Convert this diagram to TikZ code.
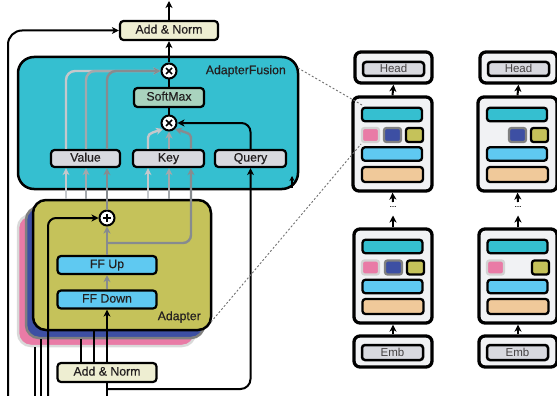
\documentclass[tikz,border=0pt]{standalone}
\usepackage{fontspec}
\setmainfont{Liberation Sans}
\newfontfamily\lblfam[FakeBold=0.45]{Liberation Sans}
\usetikzlibrary{arrows.meta,calc}
\definecolor{cyanbg}{HTML}{35BFD0}
\definecolor{olivec}{HTML}{C5C25A}
\definecolor{adblue}{HTML}{3D4FA3}
\definecolor{adpink}{HTML}{E97BA6}
\definecolor{cream}{HTML}{EEEED2}
\definecolor{sgreen}{HTML}{A9D3BE}
\definecolor{boxgray}{HTML}{D8D9DF}
\definecolor{ffblue}{HTML}{5FC9F1}
\definecolor{peach}{HTML}{F0C99A}
\definecolor{panel}{HTML}{F1F2F4}
\definecolor{gA}{HTML}{C5C8CC}
\definecolor{gB}{HTML}{A4A8AC}
\definecolor{gC}{HTML}{878B8F}
\definecolor{txt}{HTML}{231F20}
\definecolor{dashc}{HTML}{707070}
\tikzset{
 bl/.style={draw=black, line width=2pt},
 gl/.style={line width=2.4pt},
 arr/.style={-{Stealth[length=7pt,width=7pt,inset=2pt]}},
 sarr/.style={-{Stealth[length=5pt,width=5pt,inset=1.5pt]}},
 lbl/.style={draw=black, line width=2.2pt, rounded corners=3.5pt, inner sep=0pt,
   minimum height=19pt, text height=8.7pt, text depth=2.5pt,
   font=\lblfam\fontsize{12.3}{12}\selectfont, text=txt},
 opc/.style={circle, draw=black, line width=2pt, fill=white, minimum size=15pt, inner sep=0pt},
 stk/.style={line width=2.5pt, rounded corners=13pt, inner sep=0pt},
 rpan/.style={draw=black, line width=3.3pt, fill=panel, rounded corners=6pt, inner sep=0pt},
 rin/.style={draw=black, line width=2.5pt, fill=boxgray, rounded corners=3pt, inner sep=0pt,
   text height=8.3pt, text depth=0.5pt, font=\fontsize{11.5}{11.5}\selectfont, text=txt!85},
 rbar/.style={draw=black, line width=2.3pt, rounded corners=3pt, inner sep=0pt,
   minimum width=60pt, minimum height=13.5pt},
 sqr/.style={line width=2.3pt, rounded corners=2.5pt, inner sep=0pt,
   minimum width=17pt, minimum height=14pt},
 dsh/.style={draw=dashc, line width=0.9pt, dash pattern=on 2pt off 2pt},
}
\begin{document}
\begin{tikzpicture}[x=1pt,y=-1pt]
\useasboundingbox (0,0) rectangle (557,396);
% ---------------- AdapterFusion
\node[draw=black, line width=2.5pt, fill=cyanbg, rounded corners=16pt,
  minimum width=280pt, minimum height=132pt, inner sep=0pt] (fusion) at (158,123) {};
\node[anchor=east, font=\lblfam\fontsize{12.3}{12}\selectfont, text=txt, inner sep=0pt] (flbl) at (286,71) {AdapterFusion};
\node[lbl, fill=cream, minimum width=98pt] (addtop) at (169,30.5) {Add \& Norm};
\node[opc] (m1) at (169,71) {};
\node[lbl, fill=sgreen, minimum width=70pt] (soft) at (169,97.5) {SoftMax};
\node[opc] (m2) at (169,123) {};
\node[lbl, fill=boxgray, minimum width=69pt, minimum height=17pt] (value) at (85.5,158.5) {Value};
\node[lbl, fill=boxgray, minimum width=71pt, minimum height=17pt] (key) at (168.5,158.5) {Key};
\node[lbl, fill=boxgray, minimum width=71pt, minimum height=17pt] (query) at (250.5,158.5) {Query};
\draw[line width=1.7pt] ($(m1)+(-3,-3)$) -- ($(m1)+(3,3)$) ($(m1)+(-3,3)$) -- ($(m1)+(3,-3)$);
\draw[line width=1.7pt] ($(m2)+(-3,-3)$) -- ($(m2)+(3,3)$) ($(m2)+(-3,3)$) -- ($(m2)+(3,-3)$);
% value lines
\draw[gl,gA,arr,rounded corners=9pt] (66,0 |- value.north) -- (66,71) -- (m1.west);
\draw[gl,gB,arr,rounded corners=9pt] (86,0 |- value.north) -- (86,71) -- (m1.west);
\draw[gl,gC,arr,rounded corners=9pt] (107,0 |- value.north) -- (107,71) -- (m1.west);
% key lines
\draw[gl,gA,arr] (148,0 |- key.north) -- (148,141) .. controls (148,134) .. (m2.225);
\draw[gl,gB,arr] (m2.south |- key.north) -- (m2.south);
\draw[gl,gC,arr] (191,0 |- key.north) -- (191,141) .. controls (191,134) .. (m2.-45);
% query
\draw[bl,arr,rounded corners=9pt] (query.north) -- (query.north |- m2.east) -- (m2.east);
\draw[bl] (m2.north) -- (soft.south);
\draw[bl] (soft.north) -- (m1.south);
\draw[bl,arr] (m1.north) -- (addtop.south);
\coordinate (topout) at (169,1);
\draw[bl,arr] (addtop.north) -- (topout);
\coordinate (sa1) at (292,188);
\coordinate (sa2) at (292,176);
\draw[line width=1.6pt,sarr] (sa1) -- (sa2);
% ---------------- Adapter stack
\node[stk, fill=adpink, draw=gray!30, minimum width=177pt, minimum height=131pt] (pinkad) at (106.5,280.5) {};
\node[stk, fill=adblue, draw=gray, minimum width=178pt, minimum height=131pt] (bluead) at (115,272.5) {};
\node[stk, fill=olivec, draw=black, minimum width=178pt, minimum height=130pt] (olivead) at (122,265) {};
\node[opc] (plus) at (107,218) {};
\draw[line width=1.7pt] ($(plus)+(-4.2,0)$) -- ($(plus)+(4.2,0)$) ($(plus)+(0,-4.2)$) -- ($(plus)+(0,4.2)$);
\node[lbl, fill=ffblue, minimum width=99pt, minimum height=18pt] (ffup) at (107,265) {FF Up};
\node[lbl, fill=ffblue, minimum width=99pt, minimum height=18pt] (ffdown) at (107,299.5) {FF Down};
\node[anchor=east, font=\lblfam\fontsize{12.3}{12}\selectfont, text=txt, inner sep=0pt] (alb) at (201,317) {Adapter};
\node[lbl, fill=cream, minimum width=99pt] (addbot) at (107,372.5) {Add \& Norm};
% gray connectors
\draw[gl,gC,arr] (ffdown.north) -- (ffup.south);
\draw[gl,gC,arr] (ffup.north) -- (plus.south);
\coordinate (br) at (107,243);
\draw[gl,gC,arr,rounded corners=8pt] (br) -- (191,243) -- (191,0 |- key.south);
\draw[gl,gC,arr] (plus.north) -- (107,0 |- value.south);
\draw[gl,gA,arr] (66,0 |- olivead.north) -- (66,0 |- value.south);
\draw[gl,gB,arr] (86,0 |- olivead.north) -- (86,0 |- value.south);
\draw[gl,gA,arr] (148,0 |- olivead.north) -- (148,0 |- key.south);
\draw[gl,gB,arr] (169,0 |- olivead.north) -- (169,0 |- key.south);
% black connectors
\draw[bl,arr] (addbot.north) -- (ffdown.south);
\draw[bl] (94,0 |- addbot.north) -- (94,0 |- olivead.south);
\draw[bl] (81,0 |- addbot.north) -- (81,0 |- bluead.south);
\coordinate (inA) at (8,397);
\coordinate (inB) at (35,397);
\coordinate (inC) at (41,397);
\coordinate (inD) at (48,397);
\coordinate (inE) at (107,397);
\coordinate (qb) at (107,389);
\draw[bl,arr,rounded corners=14pt] (inA) -- (8,0 |- addtop.west) -- (addtop.west);
\draw[bl] (inB) -- (35,0 |- pinkad.south);
\draw[bl] (inC) -- (41,0 |- bluead.south);
\draw[bl,arr,rounded corners=8pt] (inD) -- (48,0 |- plus.west) -- (plus.west);
\draw[bl] (addbot.south) -- (inE);
\draw[bl,arr,rounded corners=10pt] (qb) -- (query.south |- qb) -- (query.south);
% ---------------- Right columns
\foreach \dx/\sfx/\pu/\bu/\pl/\bll in {0/A/1/1/1/1, 125/B/0/1/1/0} {
 \begin{scope}[xshift=\dx pt]
  \node[rpan, minimum width=77pt, minimum height=31pt] (head\sfx) at (393.5,67.5) {};
  \node[rin, minimum width=61pt, minimum height=14pt] (headt\sfx) at (393.5,69) {Head};
  \node[rpan, minimum width=79pt, minimum height=94pt] (layU\sfx) at (392.5,144) {};
  \node[rbar, fill=cyanbg] (cyU\sfx) at (392,114.5) {};
  \ifnum\pu=1 \node[sqr, fill=adpink, draw=gray!35] (pkU\sfx) at (370.5,135) {}; \fi
  \ifnum\bu=1 \node[sqr, fill=adblue, draw=gray] (buU\sfx) at (392.5,135) {}; \fi
  \node[sqr, fill=olivec, draw=black] (olU\sfx) at (414.5,135) {};
  \node[rbar, fill=ffblue] (lbU\sfx) at (392,154) {};
  \node[rbar, fill=peach, minimum width=61pt, minimum height=15pt] (peU\sfx) at (392.5,174.5) {};
  \node[rpan, minimum width=78pt, minimum height=94pt] (layL\sfx) at (393,276) {};
  \node[rbar, fill=cyanbg] (cyL\sfx) at (392.5,246.5) {};
  \ifnum\pl=1 \node[sqr, fill=adpink, draw=gray!35] (pkL\sfx) at (370.5,267.5) {}; \fi
  \ifnum\bll=1 \node[sqr, fill=adblue, draw=gray] (buL\sfx) at (393.5,267.5) {}; \fi
  \node[sqr, fill=olivec, draw=black] (olL\sfx) at (415.5,267.5) {};
  \node[rbar, fill=ffblue] (lbL\sfx) at (392.5,286.5) {};
  \node[rbar, fill=peach, minimum width=61pt, minimum height=15pt] (peL\sfx) at (393,306.5) {};
  \node[rpan, minimum width=78pt, minimum height=31pt] (emb\sfx) at (393,351.5) {};
  \node[rin, minimum width=61pt, minimum height=15pt] (embt\sfx) at (392.5,352.5) {Emb};
  \draw[bl,arr] (layU\sfx.north) -- (head\sfx.south);
  \coordinate (d1\sfx) at (393,202);
  \coordinate (d2\sfx) at (393,215.5);
  \draw[bl,arr] (d1\sfx) -- (layU\sfx.south);
  \node[font=\lblfam\fontsize{8}{8}\selectfont, inner sep=0pt] (dots\sfx) at (393,206.5) {...};
  \draw[bl,arr] (layL\sfx.north) -- (d2\sfx);
  \draw[bl,arr] (emb\sfx.north) -- (layL\sfx.south);
 \end{scope}
}
% dashed zoom lines
\coordinate (da1) at (298,68);
\coordinate (da2) at (362,105);
\coordinate (db1) at (211,322);
\coordinate (db2) at (361,144);
\draw[dsh] (da1) -- (da2);
\draw[dsh] (db1) -- (db2);
\end{tikzpicture}
\end{document}
